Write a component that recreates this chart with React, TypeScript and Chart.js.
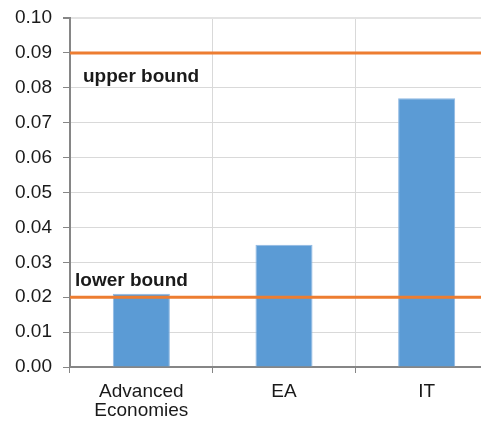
import React, { useEffect, useRef } from "react";
import { Chart, registerables } from "chart.js";

Chart.register(...registerables);

const categories: (string | string[])[] = [["Advanced", "Economies"], "EA", "IT"];
const values = [0.021, 0.035, 0.077];
const yTicks = [0, 0.01, 0.02, 0.03, 0.04, 0.05, 0.06, 0.07, 0.08, 0.09, 0.1];
const boundValues = [0.09, 0.02];
const boundLabels = ["upper bound", "lower bound"];

const FONT = "'Liberation Sans', Arial, sans-serif";

const boundsPlugin = {
  id: "bounds",
  afterDatasetsDraw(chart: any) {
    const { ctx, chartArea, scales } = chart;
    const y = scales.y;
    ctx.save();
    const pys = boundValues.map((b) => y.getPixelForValue(b));
    pys.forEach((py) => {
      ctx.strokeStyle = "#ED7D31";
      ctx.lineWidth = 3;
      ctx.beginPath();
      ctx.moveTo(chartArea.left, py);
      ctx.lineTo(chartArea.right, py);
      ctx.stroke();
    });
    ctx.font = `bold 19px ${FONT}`;
    ctx.fillStyle = "#1a1a1a";
    ctx.textBaseline = "middle";
    ctx.textAlign = "left";
    ctx.fillText(boundLabels[0], chartArea.left + 13, pys[0] + 24);
    ctx.fillText(boundLabels[1], chartArea.left + 5, pys[1] - 16);
    ctx.restore();
  },
};

export default function App() {
  const ref = useRef<HTMLCanvasElement>(null);
  useEffect(() => {
    document.body.style.overflow = "hidden";
    const chart = new Chart(ref.current!, {
      type: "bar",
      data: {
        labels: categories as any,
        datasets: [
          {
            data: values,
            backgroundColor: "#5B9BD5",
            borderColor: "#8FB8E2",
            borderWidth: 1,
            barPercentage: 0.4,
            categoryPercentage: 1,
          },
        ],
      },
      options: {
        animation: false,
        responsive: false,
        maintainAspectRatio: false,
        devicePixelRatio: 1,
        layout: { padding: { top: 10, right: 10, left: 0, bottom: 0 } },
        plugins: { legend: { display: false }, tooltip: { enabled: false } },
        scales: {
          x: {
            offset: true,
            grid: {
              offset: true,
              color: "#d9d9d9",
              lineWidth: 1,
              tickLength: 6,
              tickColor: "#868686",
            },
            border: { color: "#868686", width: 2 },
            ticks: {
              color: "#1a1a1a",
              font: { size: 19, family: FONT, lineHeight: 1.02 },
              padding: 9,
              maxRotation: 0,
              autoSkip: false,
            },
            afterFit: (s: any) => {
              s.height = 56;
              s.paddingLeft = 0;
              s.paddingRight = 0;
            },
          },
          y: {
            min: 0,
            max: 0.1,
            afterBuildTicks: (s: any) => {
              s.ticks = yTicks.map((v) => ({ value: v }));
            },
            grid: {
              color: (c: any) => (c.tick && Math.abs(c.tick.value - 0.1) < 1e-9 ? "#e3e3e3" : "#d9d9d9"),
              lineWidth: (c: any) => (c.tick && Math.abs(c.tick.value - 0.1) < 1e-9 ? 2 : 1),
              tickLength: 7,
              tickColor: "#868686",
            },
            border: { color: "#868686", width: 2 },
            ticks: {
              color: "#1a1a1a",
              font: { size: 19, family: FONT },
              padding: 11,
              callback: (v: any) => Number(v).toFixed(2),
            },
            afterFit: (s: any) => {
              s.width = 62;
              s.paddingTop = 0;
              s.paddingBottom = 0;
            },
          },
        },
      },
      plugins: [boundsPlugin],
    });
    return () => chart.destroy();
  }, []);
  return (
    <div style={{ width: 481, height: 415, overflow: "hidden" }}>
      <canvas ref={ref} width={500} height={415} style={{ display: "block" }} />
    </div>
  );
}
